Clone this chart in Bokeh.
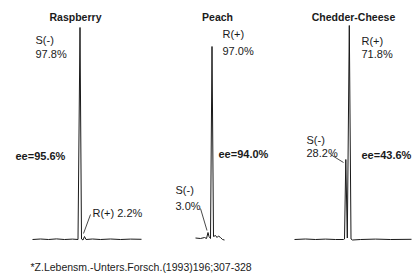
from bokeh.plotting import figure
from bokeh.models import Range1d, ColumnDataSource
from bokeh.core.properties import value
from bokeh.embed import file_html
from bokeh.resources import INLINE

# ---- data ----
samples = ["Raspberry", "Peach", "Chedder-Cheese"]
ee_values = ["ee=95.6%", "ee=94.0%", "ee=43.6%"]
footnote = "*Z.Lebensm.-Unters.Forsch.(1993)196;307-328"

# retention position / detector response (arbitrary units)
rasp_t = [32, 40, 48, 56, 64, 72, 77.5, 79.5, 81, 82.5, 84, 85.5, 92, 100, 110, 120, 130, 141]
rasp_sig = [0, 0.5, 0, 0.6, 0, 0.4, 0, 212, 0.5, -0.5, 3, 0, 0.5, 0, 0.5, 0, 0.4, 0.2]

peach_t = [195, 200, 204, 206, 207.5, 208.5, 210, 211.5, 213, 215, 216.5, 218, 220, 222, 224]
peach_sig = [0.5, 0, 1, 0, 6, 2, 0, 192, 2, 3, 1, 2.5, 1, -1, -1.5]

cheese_t = [294, 305, 315, 325, 335, 343, 344, 345.3, 346.8, 348.8, 350.5, 352, 360, 375, 390, 411]
cheese_sig = [0, 0.5, 0, 0.4, 0, 0, 0.5, 80, 1.5, 214, 0.5, -0.5, 0, 0.4, 0, 0.2]

rasp_labels = ["S(-)", "97.8%", "R(+) 2.2%"]
peach_labels = ["R(+)", "97.0%", "S(-)", "3.0%"]
cheese_labels = ["R(+)", "71.8%", "S(-)", "28.2%"]

FONT = "Liberation Sans"
INK = "#1a1a1a"

p = figure(width=418, height=276, x_range=Range1d(0, 418), y_range=Range1d(276, 0),
           x_axis_type=None, y_axis_type=None, toolbar_location=None,
           output_backend="svg", min_border=0, outline_line_color=None,
           background_fill_color="white", border_fill_color="white")
p.grid.visible = False

baselines = [239, 238, 239]
traces = [(rasp_t, rasp_sig), (peach_t, peach_sig), (cheese_t, cheese_sig)]
for (t, s), b in zip(traces, baselines):
    p.line(t, [b - v for v in s], line_color=INK, line_width=1.0)

def put(texts, xs, ys, size, bold=False, align="left"):
    src = ColumnDataSource(dict(x=xs, y=ys, text=texts))
    p.text(x="x", y="y", text="text", source=src, text_font=value(FONT),
           text_font_size=size, text_font_style="bold" if bold else "normal",
           text_align=align, text_baseline="alphabetic", text_color=INK)

# titles
put(samples, [75, 217, 353], [16, 16, 16], "10.5px", bold=True, align="center")
# ee values
put(ee_values, [15, 218, 361], [155, 153, 154], "11px", bold=True)
# peak labels
put(rasp_labels, [35, 35, 92], [39, 53, 212], "11px")
put(peach_labels, [222, 222, 175, 175], [33, 50, 189, 205], "11px")
put(cheese_labels, [361, 361, 306, 306], [40, 53, 139, 152], "11px")
# leader lines
p.segment(x0=[83, 200, 330], y0=[233, 208, 154], x1=[90, 206.5, 343], y1=[214, 230, 162],
          line_color=INK, line_width=0.8)
# footnote
put([footnote], [30], [266], "10.5px")

open("out.html", "w").write(file_html(p, INLINE))
